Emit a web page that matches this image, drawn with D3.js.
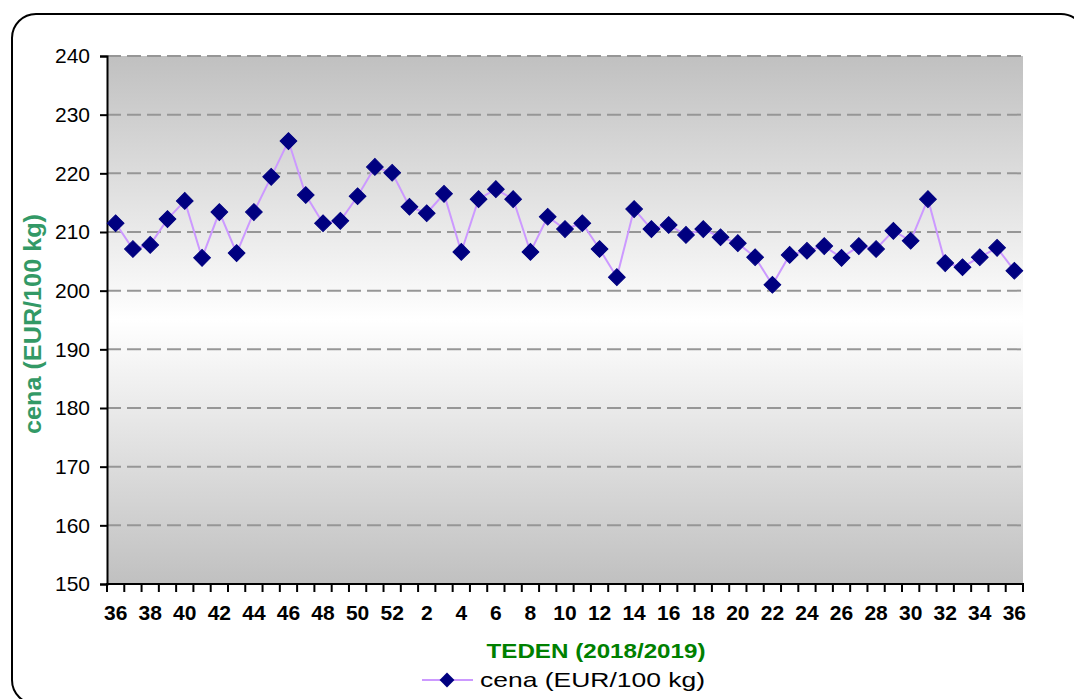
<!DOCTYPE html>
<html>
<head>
<meta charset="utf-8">
<script src="https://cdn.jsdelivr.net/npm/d3@7"></script>
<style>
  html, body { margin: 0; padding: 0; background: #ffffff; }
  svg { display: block; }
  text { font-family: "Liberation Sans", Arial, sans-serif; }
</style>
</head>
<body>
<svg id="chart" width="1074" height="699"></svg>
<script>
// ---- data ----
const weeks = [36,37,38,39,40,41,42,43,44,45,46,47,48,49,50,51,52,
               1,2,3,4,5,6,7,8,9,10,11,12,13,14,15,16,17,18,19,20,
               21,22,23,24,25,26,27,28,29,30,31,32,33,34,35,36];
const prices = [211.5,207.1,207.8,212.2,215.3,205.6,213.4,206.4,213.4,219.4,225.5,216.3,211.5,211.9,216.1,221.1,220.1,
                214.3,213.2,216.5,206.6,215.6,217.3,215.6,206.6,212.6,210.5,211.5,207.1,202.3,213.9,210.5,211.2,209.5,210.5,209.1,208.1,
                205.7,201.0,206.1,206.8,207.6,205.6,207.6,207.1,210.2,208.5,215.6,204.7,204.0,205.7,207.3,203.4];
const yTicks = [150,160,170,180,190,200,210,220,230,240];
const seriesName = "cena (EUR/100 kg)";
const yTitle = "cena (EUR/100 kg)";
const xTitle = "TEDEN  (2018/2019)";

(function () {
// ---- layout ----
const svg = d3.select("#chart");
const pL = 107, pR = 1023, pT = 56, pB = 584;

// frame
svg.append("rect")
  .attr("x", 12).attr("y", 14).attr("width", 1073).attr("height", 690)
  .attr("rx", 24).attr("ry", 24)
  .attr("fill", "#ffffff").attr("stroke", "#000").attr("stroke-width", 2);

// gradient
const defs = svg.append("defs");
const grad = defs.append("linearGradient").attr("id", "bg")
  .attr("x1", 0).attr("y1", 0).attr("x2", 0).attr("y2", 1);
grad.append("stop").attr("offset", "0%").attr("stop-color", "#c0c0c0");
grad.append("stop").attr("offset", "50%").attr("stop-color", "#ffffff");
grad.append("stop").attr("offset", "100%").attr("stop-color", "#c0c0c0");

const idx = d3.range(weeks.length);
const x = d3.scaleBand().domain(idx).range([pL, pR]).padding(0);
const y = d3.scaleLinear().domain([150, 240]).range([pB, pT]);

svg.append("rect")
  .attr("x", pL).attr("y", pT).attr("width", pR - pL).attr("height", pB - pT)
  .attr("fill", "url(#bg)");

// gridlines
svg.append("g").selectAll("line").data(yTicks.filter(t => t > 150)).join("line")
  .attr("x1", pL).attr("x2", pR)
  .attr("y1", d => y(d)).attr("y2", d => y(d))
  .attr("stroke", "#969696").attr("stroke-width", 2)
  .attr("stroke-dasharray", "14,6");

// y axis
const yAxis = svg.append("g").attr("transform", `translate(${pL},0)`)
  .call(d3.axisLeft(y).tickValues(yTicks).tickSize(7).tickPadding(10));
yAxis.select(".domain").attr("stroke", "#000").attr("stroke-width", 2);
yAxis.selectAll(".tick line").attr("stroke", "#000").attr("stroke-width", 2);
yAxis.selectAll(".tick text")
  .attr("font-family", "Liberation Sans, Arial, sans-serif")
  .attr("font-size", 21).attr("fill", "#000");

// x axis (ticks at category boundaries)
const boundaries = d3.range(weeks.length + 1).map(i => pL + i * x.bandwidth());
const xg = svg.append("g");
xg.append("line").attr("x1", pL - 1).attr("x2", pR + 1)
  .attr("y1", pB).attr("y2", pB)
  .attr("stroke", "#000").attr("stroke-width", 2);
xg.selectAll("line.tk").data(boundaries).join("line").attr("class", "tk")
  .attr("x1", d => d).attr("x2", d => d)
  .attr("y1", pB).attr("y2", pB + 8)
  .attr("stroke", "#000").attr("stroke-width", 2);
xg.selectAll("text").data(idx.filter(i => i % 2 === 0)).join("text")
  .attr("x", i => x(i) + x.bandwidth() / 2)
  .attr("y", 620)
  .attr("text-anchor", "middle")
  .attr("font-size", 21).attr("font-weight", "bold").attr("fill", "#000")
  .text(i => weeks[i]);

// line
const line = d3.line()
  .x((d, i) => x(i) + x.bandwidth() / 2)
  .y(d => y(d));
svg.append("path").datum(prices)
  .attr("d", line)
  .attr("fill", "none").attr("stroke", "#cc99ff").attr("stroke-width", 2);

// markers
const diamond = d3.symbol().type(d3.symbolSquare).size(140);
svg.append("g").selectAll("path").data(prices).join("path")
  .attr("d", diamond)
  .attr("transform", (d, i) => `translate(${x(i) + x.bandwidth() / 2},${y(d)}) rotate(45)`)
  .attr("fill", "#000080").attr("stroke", "#000080").attr("stroke-width", 1);

// y title
svg.append("text")
  .attr("transform", "translate(41,324) rotate(-90)")
  .attr("text-anchor", "middle")
  .attr("font-size", 23).attr("font-weight", "bold").attr("fill", "#339966")
  .attr("textLength", 220).attr("lengthAdjust", "spacingAndGlyphs")
  .text(yTitle);

// x title
svg.append("text")
  .attr("x", 596).attr("y", 658)
  .attr("text-anchor", "middle")
  .attr("font-size", 20).attr("font-weight", "bold").attr("fill", "#008000")
  .attr("textLength", 219).attr("lengthAdjust", "spacingAndGlyphs")
  .text(xTitle);

// legend
const lg = svg.append("g");
lg.append("line").attr("x1", 422).attr("x2", 473).attr("y1", 680).attr("y2", 680)
  .attr("stroke", "#cc99ff").attr("stroke-width", 2);
lg.append("path").attr("d", d3.symbol().type(d3.symbolSquare).size(110))
  .attr("transform", "translate(447,680) rotate(45)")
  .attr("fill", "#000080");
lg.append("text").attr("x", 480).attr("y", 687)
  .attr("font-size", 21).attr("fill", "#000")
  .attr("textLength", 225).attr("lengthAdjust", "spacingAndGlyphs")
  .text(seriesName);
})();
</script>
</body>
</html>
